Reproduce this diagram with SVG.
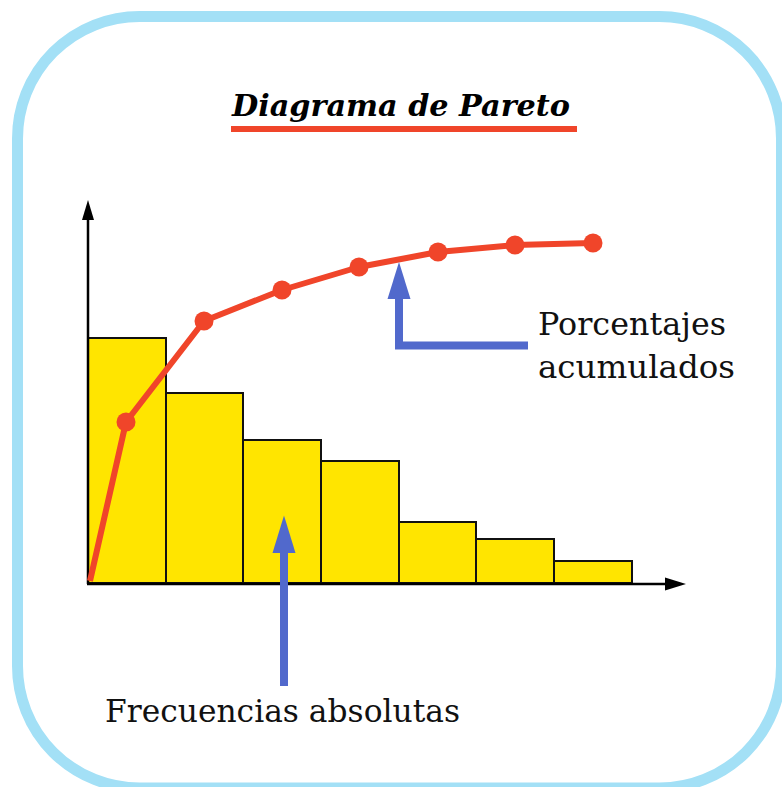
<svg xmlns="http://www.w3.org/2000/svg" width="782" height="787" viewBox="0 0 782 787">
<style>
.bar{fill:#ffe500;stroke:#111;stroke-width:2}
.axis{stroke:#000;stroke-width:2.5;fill:none}
.red{stroke:#f0452a;stroke-width:6;fill:none;stroke-linejoin:round}
.dot{fill:#f0452a}
.blue{stroke:#5169cc;stroke-width:8;fill:none}
.bluehead{fill:#5169cc}
.lbl{font-family:"DejaVu Serif","Liberation Serif",serif;font-size:31px;fill:#111}
.title{font-family:"DejaVu Serif","Liberation Serif",serif;font-size:30px;font-weight:bold;font-style:italic;fill:#000}
</style>
<rect x="0" y="0" width="782" height="787" fill="#fff"/>
<rect id="frame" x="17.5" y="16.5" width="764" height="771.5" rx="122" ry="122" fill="#fff" stroke="#a3e0f6" stroke-width="11"/>
<g id="title">
<text class="title" x="232" y="116" textLength="338" lengthAdjust="spacingAndGlyphs">Diagrama de Pareto</text>
<rect x="231" y="126" width="346" height="6" fill="#f0452a"/>
</g>
<g id="bars">
<rect class="bar" x="88" y="338" width="78" height="245"/>
<rect class="bar" x="166" y="393" width="77" height="190"/>
<rect class="bar" x="243" y="440" width="78" height="143"/>
<rect class="bar" x="321" y="461" width="78" height="122"/>
<rect class="bar" x="399" y="522" width="77" height="61"/>
<rect class="bar" x="476" y="539" width="78" height="44"/>
<rect class="bar" x="554" y="561" width="78" height="22"/>
</g>
<g id="axes">
<path class="axis" d="M88 584 V216"/>
<path d="M88 200 L82 220 L94 220 Z" fill="#000"/>
<path class="axis" d="M87 584 H668"/>
<path d="M686 584 L665 577.5 L665 590.5 Z" fill="#000"/>
</g>
<g id="curve">
<polyline class="red" points="90,581 126,422 204,321 282,290 359,267 438,252 515,245 593,243"/>
<circle class="dot" cx="126" cy="422" r="9.5"/>
<circle class="dot" cx="204" cy="321" r="9.5"/>
<circle class="dot" cx="282" cy="290" r="9.5"/>
<circle class="dot" cx="359" cy="267" r="9.5"/>
<circle class="dot" cx="438" cy="252" r="9.5"/>
<circle class="dot" cx="515" cy="245" r="9.5"/>
<circle class="dot" cx="593" cy="243" r="9.5"/>
</g>
<g id="connectors">
<path class="blue" d="M528 345.5 H399 V297"/>
<path class="bluehead" d="M399 262 L387.5 299 L410.5 299 Z"/>
<path class="blue" d="M284 686 V551"/>
<path class="bluehead" d="M284 515.5 L272.5 553 L295.5 553 Z"/>
</g>
<g id="label-porcentajes">
<text class="lbl" x="538" y="335" textLength="188" lengthAdjust="spacingAndGlyphs">Porcentajes</text>
<text class="lbl" x="538" y="378" textLength="197" lengthAdjust="spacingAndGlyphs">acumulados</text>
</g>
<g id="label-frecuencias">
<text class="lbl" x="105" y="722" textLength="355" lengthAdjust="spacingAndGlyphs">Frecuencias absolutas</text>
</g>
</svg>
